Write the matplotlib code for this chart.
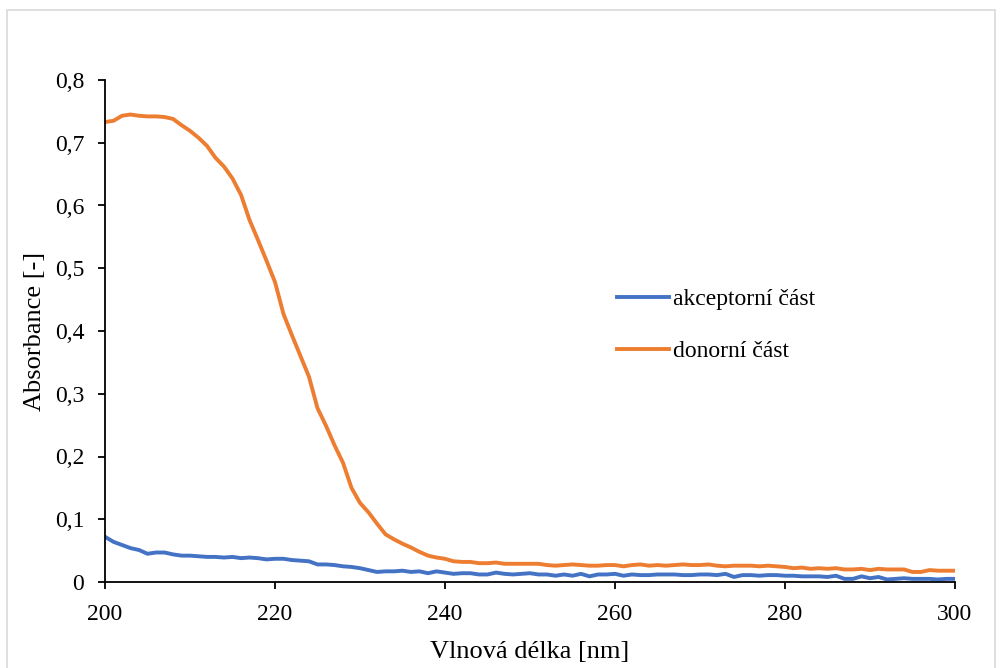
import numpy as np
import matplotlib
matplotlib.use("Agg")
import matplotlib.pyplot as plt
from matplotlib.ticker import FuncFormatter, MultipleLocator
from matplotlib.patches import Rectangle

plt.rcParams['font.family'] = ['Liberation Serif', 'DejaVu Serif']

# vlnova delka [nm], krok 1 nm
wavelength = np.arange(200, 301)

akceptor = [0.072, 0.064, 0.059, 0.054, 0.051, 0.045, 0.047, 0.047, 0.044, 0.042,
            0.042, 0.041, 0.040, 0.040, 0.039, 0.040, 0.038, 0.039, 0.038, 0.036,
            0.037, 0.037, 0.035, 0.034, 0.033, 0.028, 0.028, 0.027, 0.025, 0.024,
            0.022, 0.019, 0.016, 0.017, 0.017, 0.018, 0.016, 0.017, 0.014, 0.017,
            0.015, 0.013, 0.014, 0.014, 0.012, 0.012, 0.015, 0.013, 0.012, 0.013,
            0.014, 0.012, 0.012, 0.010, 0.012, 0.010, 0.013, 0.009, 0.012, 0.012,
            0.013, 0.010, 0.012, 0.011, 0.011, 0.012, 0.012, 0.012, 0.011, 0.011,
            0.012, 0.012, 0.011, 0.013, 0.008, 0.011, 0.011, 0.010, 0.011, 0.011,
            0.010, 0.010, 0.009, 0.009, 0.009, 0.008, 0.010, 0.005, 0.005, 0.009,
            0.006, 0.008, 0.004, 0.005, 0.006, 0.005, 0.005, 0.005, 0.004, 0.005,
            0.005]

donor = [0.733, 0.735, 0.743, 0.745, 0.743, 0.742, 0.742, 0.741, 0.738, 0.728,
         0.719, 0.708, 0.695, 0.676, 0.662, 0.643, 0.617, 0.577, 0.545, 0.512,
         0.478, 0.427, 0.393, 0.360, 0.327, 0.277, 0.249, 0.218, 0.190, 0.150,
         0.126, 0.111, 0.093, 0.076, 0.068, 0.061, 0.055, 0.048, 0.042, 0.039,
         0.037, 0.033, 0.032, 0.032, 0.030, 0.030, 0.031, 0.029, 0.029, 0.029,
         0.029, 0.029, 0.027, 0.026, 0.027, 0.028, 0.027, 0.026, 0.026, 0.027,
         0.027, 0.025, 0.027, 0.028, 0.026, 0.027, 0.026, 0.027, 0.028, 0.027,
         0.027, 0.028, 0.026, 0.025, 0.026, 0.026, 0.026, 0.025, 0.026, 0.025,
         0.024, 0.022, 0.023, 0.021, 0.022, 0.021, 0.022, 0.020, 0.020, 0.021,
         0.019, 0.021, 0.020, 0.020, 0.020, 0.016, 0.016, 0.019, 0.018, 0.018,
         0.018]

fig = plt.figure(figsize=(10.04, 6.68), dpi=100)
ax = fig.add_axes([105/1004, 1-582/668, 850/1004, 502/668])

# ramecek grafu jako v Excelu (spodni hrana je mimo obrazek)
fig.patches.append(Rectangle((7/1004, -10/668), 988/1004, 668/668, transform=fig.transFigure,
                             fill=False, edgecolor='#d9d9d9', linewidth=1.2))

ax.plot(wavelength, akceptor, color='#4472C4', lw=2.8, label='akceptorní část')
ax.plot(wavelength, donor, color='#ED7D31', lw=2.8, label='donorní část')

ax.set_xlim(200, 300)
ax.set_ylim(0, 0.8)
ax.xaxis.set_major_locator(MultipleLocator(20))
ax.yaxis.set_major_locator(MultipleLocator(0.1))
ax.yaxis.set_major_formatter(FuncFormatter(lambda v, p: '0' if abs(v) < 1e-9 else f'{v:.1f}'.replace('.', ',')))

for s in ['top', 'right']:
    ax.spines[s].set_visible(False)
ax.spines['left'].set_linewidth(1.3)
ax.spines['bottom'].set_linewidth(1.3)
ax.tick_params(direction='out', length=5, width=1.3, labelsize=17)
ax.tick_params(axis='x', pad=11)
ax.tick_params(axis='y', pad=10)

ax.set_xlabel('Vlnová délka [nm]', fontsize=19, labelpad=11)
ax.set_ylabel('Absorbance [-]', fontsize=19, labelpad=6)

ax.legend(loc='center left', bbox_to_anchor=(0.577, 0.511), frameon=False, fontsize=17,
          handlelength=2.2, labelspacing=1.3, handletextpad=0.2)

fig.savefig('out.png', dpi=100)
